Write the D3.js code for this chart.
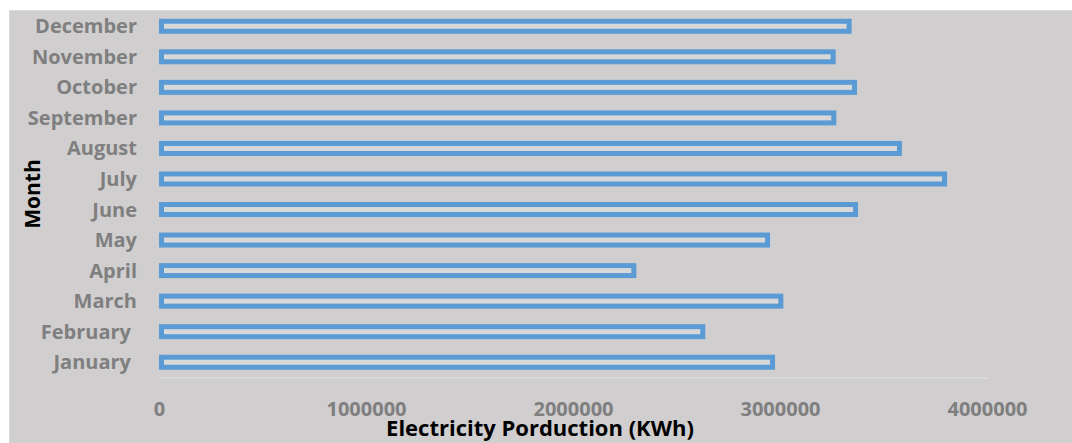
<!DOCTYPE html>
<html>
<head>
<meta charset="utf-8">
<script src="https://cdn.jsdelivr.net/npm/d3@7"></script>
<style>
  html, body { margin: 0; padding: 0; background: #ffffff; }
  svg { display: block; }
  text { font-family: "Open Sans", "DejaVu Sans", sans-serif; font-weight: 700; }
</style>
</head>
<body>
<svg id="chart" width="1072" height="443"></svg>
<script>
// Monthly electricity production (KWh)
const months = ["January", "February", "March", "April", "May", "June",
                "July", "August", "September", "October", "November", "December"];
const production = [2976000, 2639000, 3016000, 2306000, 2952000, 3377000,
                    3807000, 3589000, 3272000, 3372000, 3269000, 3346000];
const xTicks = [0, 1000000, 2000000, 3000000, 4000000];

const W = 1072, H = 443;
const plot = { left: 159, right: 987, top: 11, bottom: 377.5 };

const svg = d3.select("#chart");

// chart area background
svg.append("rect")
  .attr("x", 9).attr("y", 10)
  .attr("width", W - 9).attr("height", H - 10)
  .attr("fill", "#d0cecf");
svg.append("line")
  .attr("x1", 9.5).attr("x2", 9.5).attr("y1", 10).attr("y2", H)
  .attr("stroke", "#dadada").attr("stroke-width", 1);
svg.append("line")
  .attr("x1", 9).attr("x2", W).attr("y1", 10.5).attr("y2", 10.5)
  .attr("stroke", "#dadada").attr("stroke-width", 1);

const x = d3.scaleLinear().domain([0, 4000000]).range([plot.left, plot.right]);
const y = d3.scaleBand().domain(months.slice().reverse())
  .range([plot.top, plot.bottom]).paddingInner(0.5).paddingOuter(0.25);

// horizontal axis baseline
svg.append("line")
  .attr("x1", x(0)).attr("x2", x(4000000))
  .attr("y1", plot.bottom + 0.5).attr("y2", plot.bottom + 0.5)
  .attr("stroke", "#dedcdd").attr("stroke-width", 1.5);

// hollow bars: outline drawn inside the value extent
const sw = 5;
const barH = 15;
svg.append("g").selectAll("rect")
  .data(months.map((m, i) => ({ m, v: production[i] })))
  .join("rect")
  .attr("x", x(0) + sw / 2)
  .attr("y", d => y(d.m) + y.bandwidth() / 2 - barH / 2 + sw / 2)
  .attr("width", d => x(d.v) - x(0) - sw)
  .attr("height", barH - sw)
  .attr("fill", "#d9d8d8")
  .attr("stroke", "#5b9bd5")
  .attr("stroke-width", sw);

// x axis tick labels
const xAxis = d3.axisBottom(x).tickValues(xTicks).tickFormat(d3.format("d")).tickSize(0).tickPadding(0);
const gx = svg.append("g").attr("transform", `translate(0, 416)`).call(xAxis);
gx.select(".domain").remove();
gx.selectAll("text")
  .attr("y", 0).attr("dy", 0)
  .attr("fill", "#7f7f7f")
  .style("font-size", "20px");

// y axis category labels
const yAxis = d3.axisLeft(y).tickSize(0).tickPadding(0);
const gy = svg.append("g").attr("transform", `translate(137, 0)`).call(yAxis);
gy.select(".domain").remove();
gy.selectAll("text")
  .attr("x", d => (d === "January" || d === "February") ? -6 : 0)
  .attr("dy", "0.35em")
  .attr("fill", "#7f7f7f")
  .style("font-size", "20px");

// axis titles
svg.append("text")
  .attr("x", 540).attr("y", 436)
  .attr("text-anchor", "middle")
  .attr("fill", "#000000")
  .style("font-size", "22px")
  .text("Electricity Porduction (KWh)");

svg.append("text")
  .attr("transform", "translate(40, 194) rotate(-90)")
  .attr("text-anchor", "middle")
  .attr("fill", "#000000")
  .style("font-size", "21px")
  .text("Month");
</script>
</body>
</html>
